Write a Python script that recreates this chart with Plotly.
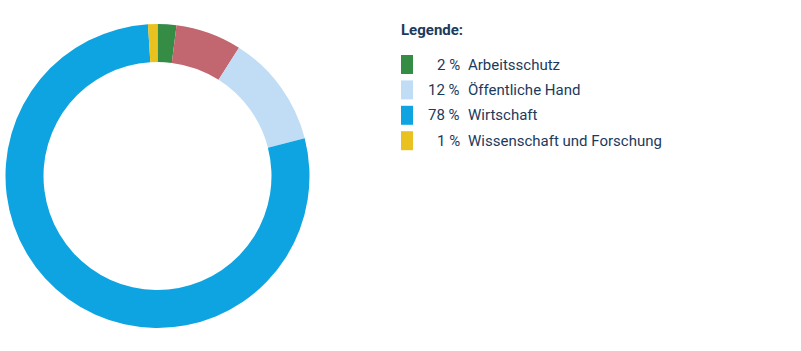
import plotly.graph_objects as go

# Data
categories = ["Arbeitsschutz", "Sonstiges", "Öffentliche Hand", "Wirtschaft", "Wissenschaft und Forschung"]
values = [2, 7, 12, 78, 1]
colors = ["#358c45", "#c2666f", "#c0ddf5", "#0ea3e1", "#e9c21f"]
in_legend = [True, False, True, True, True]

W, H = 801, 351
TEXT = "#1c3a5c"
FONT = "Roboto"
FS = 15

fig = go.Figure()
fig.add_trace(go.Pie(
    labels=categories, values=values, hole=0.75, sort=False,
    direction="clockwise", rotation=0,
    marker=dict(colors=colors, line=dict(width=0)),
    textinfo="none", hoverinfo="label+percent", showlegend=False,
    domain=dict(x=[5.5 / W, 309.5 / W], y=[1 - 328 / H, 1 - 24 / H]),
))

shapes = []
annotations = [dict(
    x=399 / W, y=1 - 30 / H, xref="paper", yref="paper", xanchor="left", yanchor="middle",
    text="<b>Legende:</b>", showarrow=False, font=dict(family=FONT, size=FS, color=TEXT),
)]
row = 0
for cat, val, col, show in zip(categories, values, colors, in_legend):
    if not show:
        continue
    yc = 64.5 + row * 25.4
    shapes.append(dict(type="rect", xref="paper", yref="paper",
                       x0=401 / W, x1=413 / W, y0=1 - (yc - 9.5) / H, y1=1 - (yc + 9.5) / H,
                       fillcolor=col, line=dict(width=0)))
    annotations.append(dict(x=462 / W, y=1 - yc / H, xref="paper", yref="paper",
                            xanchor="right", yanchor="middle", text=f"{val} %", showarrow=False,
                            font=dict(family=FONT, size=FS, color=TEXT)))
    annotations.append(dict(x=466 / W, y=1 - yc / H, xref="paper", yref="paper",
                            xanchor="left", yanchor="middle", text=cat, showarrow=False,
                            font=dict(family=FONT, size=FS, color=TEXT)))
    row += 1

fig.update_layout(
    width=W, height=H, margin=dict(l=0, r=0, t=0, b=0),
    paper_bgcolor="white", plot_bgcolor="white",
    shapes=shapes, annotations=annotations, showlegend=False,
)
fig.write_html("out.html")
